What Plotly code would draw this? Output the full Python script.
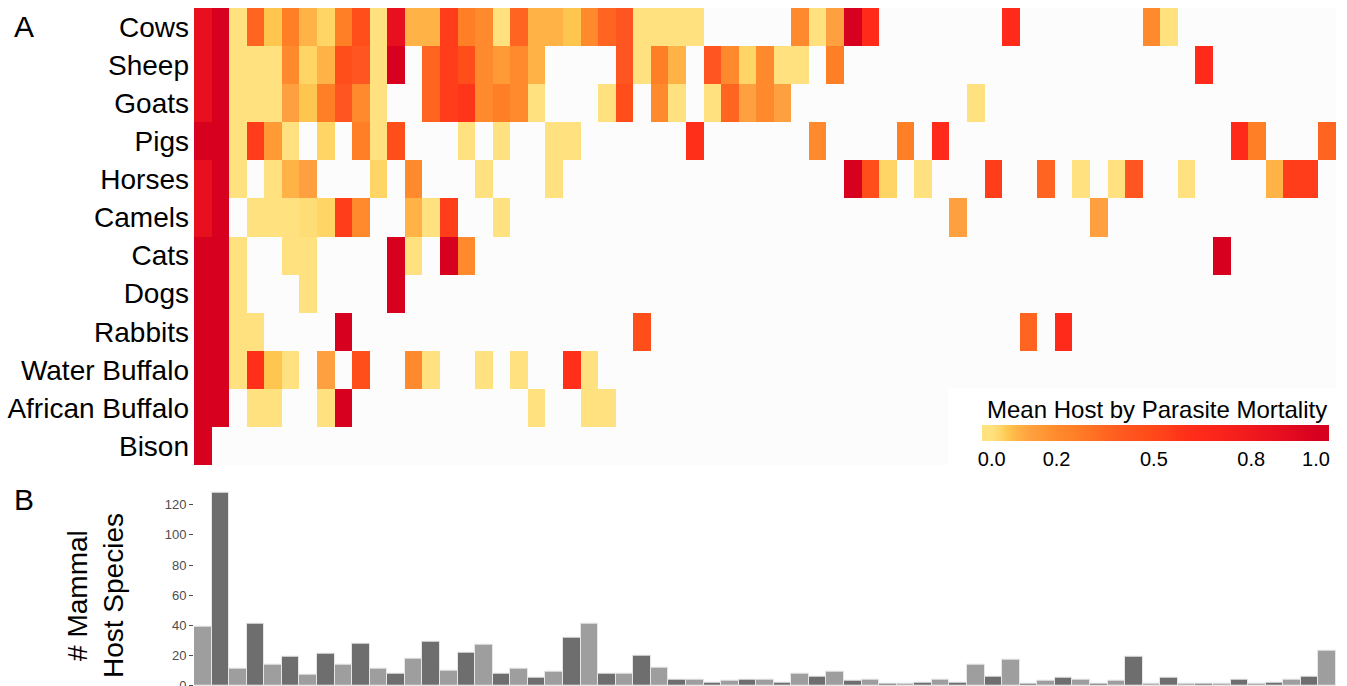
import plotly.graph_objects as go
from plotly.subplots import make_subplots

N = None
hosts = ["Cows", "Sheep", "Goats", "Pigs", "Horses", "Camels", "Cats", "Dogs",
         "Rabbits", "Water Buffalo", "African Buffalo", "Bison"]

cows = [0.88, 1.0, 0.0, 0.36, 0.05, 0.26, 0.08, 0.03, 0.26, 0.47,
        0.0, 0.88, 0.08, 0.08, 0.55, 0.26, 0.2, 0.0, 0.36, 0.08,
        0.08, 0.05, 0.2, 0.36, 0.42, 0.0, 0.0, 0.0, 0.0, N,
        N, N, N, N, 0.2, 0.0, 0.12, 1.0, 0.65, N,
        N, N, N, N, N, N, 0.65, N, N, N,
        N, N, N, N, 0.2, 0.0, N, N, N, N,
        N, N, N, N, N]
sheep = [0.88, 1.0, 0.0, 0.0, 0.0, 0.2, 0.03, 0.08, 0.47, 0.42,
         0.0, 1.0, N, 0.36, 0.55, 0.47, 0.2, 0.15, 0.2, 0.08,
         N, N, N, N, 0.42, 0.0, 0.26, 0.08, N, 0.42,
         0.2, 0.03, 0.2, 0.0, 0.0, N, 0.26, N, N, N,
         N, N, N, N, N, N, N, N, N, N,
         N, N, N, N, N, N, N, 0.65, N, N,
         N, N, N, N, N]
goats = [0.88, 1.0, 0.0, 0.0, 0.0, 0.12, 0.05, 0.26, 0.42, 0.2,
         0.0, N, N, 0.36, 0.55, 0.58, 0.2, 0.26, 0.2, 0.0,
         N, N, N, 0.0, 0.47, N, 0.2, 0.0, N, 0.0,
         0.36, 0.12, 0.2, 0.12, N, N, N, N, N, N,
         N, N, N, N, 0.0, N, N, N, N, N,
         N, N, N, N, N, N, N, N, N, N,
         N, N, N, N, N]
pigs = [1.0, 1.0, 0.0, 0.55, 0.15, 0.0, N, 0.03, N, 0.26,
        0.0, 0.47, N, N, N, 0.0, N, 0.0, N, N,
        0.0, 0.0, N, N, N, N, N, N, 0.6, N,
        N, N, N, N, N, 0.2, N, N, N, N,
        0.26, N, 0.65, N, N, N, N, N, N, N,
        N, N, N, N, N, N, N, N, N, 0.65,
        0.26, N, N, N, 0.36]
horses = [0.88, 1.0, 0.0, N, 0.0, 0.08, 0.12, N, N, N,
          0.03, N, 0.2, N, N, N, 0.0, N, N, N,
          0.0, N, N, N, N, N, N, N, N, N,
          N, N, N, N, N, N, N, 1.0, 0.47, 0.03,
          N, 0.0, N, N, N, 0.55, N, N, 0.36, N,
          0.0, N, 0.0, 0.42, N, N, 0.0, N, N, N,
          N, 0.08, 0.55, 0.55, N]
camels = [0.88, 1.0, N, 0.0, 0.0, 0.0, 0.01, 0.03, 0.55, 0.2,
          N, N, 0.08, 0.0, 0.55, N, N, 0.0, N, N,
          N, N, N, N, N, N, N, N, N, N,
          N, N, N, N, N, N, N, N, N, N,
          N, N, N, 0.12, N, N, N, N, N, N,
          N, 0.12, N, N, N, N, N, N, N, N,
          N, N, N, N, N]
cats = [1.0, 1.0, 0.0, N, N, 0.0, 0.0, N, N, N,
        N, 1.0, 0.0, N, 1.0, 0.2, N, N, N, N,
        N, N, N, N, N, N, N, N, N, N,
        N, N, N, N, N, N, N, N, N, N,
        N, N, N, N, N, N, N, N, N, N,
        N, N, N, N, N, N, N, N, 1.0, N,
        N, N, N, N, N]
dogs = [1.0, 1.0, 0.0, N, N, N, 0.0, N, N, N,
        N, 1.0] + [N] * 53
rabbits = [1.0, 1.0, 0.0, 0.0, N, N, N, N, 1.0, N] + [N] * 15 + [0.47] + [N] * 21 + [0.36, N, 0.65] + [N] * 15
water_buffalo = [1.0, 1.0, 0.0, 0.6, 0.05, 0.0, N, 0.12, N, 0.47,
                 N, N, 0.2, 0.0, N, N, 0.0, N, 0.0, N,
                 N, 0.6, 0.0] + [N] * 42
african_buffalo = [1.0, 1.0, N, 0.0, 0.0, N, N, 0.0, 1.0, N,
                   N, N, N, N, N, N, N, N, N, 0.0,
                   N, N, 0.0, 0.0] + [N] * 41
bison = [1.0] + [N] * 64

species_counts = [39, 128, 11, 41, 14, 19, 7, 21, 14, 28,
                  11, 8, 18, 29, 10, 22, 27, 8, 11, 5,
                  9, 32, 41, 8, 8, 20, 12, 4, 4, 2,
                  3, 4, 4, 2, 8, 6, 9, 3, 4, 1,
                  1, 2, 4, 2, 14, 6, 17, 1, 3, 5,
                  4, 1, 3, 19, 1, 5, 1, 1, 1, 4,
                  1, 2, 4, 6, 23]

bar_ticks = [0, 20, 40, 60, 80, 100, 120]
cbar_ticks = [0.0, 0.2, 0.5, 0.8, 1.0]
cbar_labels = ["0.0", "0.2", "0.5", "0.8", "1.0"]

z = [cows, sheep, goats, pigs, horses, camels, cats, dogs, rabbits,
     water_buffalo, african_buffalo, bison]
ncol = len(species_counts)
xs = list(range(ncol))

# colour scale (value -> colour), normalised to zmin/zmax
ZMIN, ZMAX = -0.03, 1.04
cs_vals = [0.0, 0.03, 0.05, 0.08, 0.12, 0.15, 0.2, 0.26, 0.36, 0.42, 0.47, 0.55, 0.6, 0.65, 0.88, 1.0]
cs_cols = ['#FFE17F', '#FFD565', '#FFC64F', '#FFB347', '#FFA040', '#FF9A35', '#FF8A2E', '#FF7F27',
           '#FF6420', '#FF5520', '#FF4E1A', '#FF3D1A', '#FF2F1A', '#FF2A1A', '#E8101F', '#D7001F']
colorscale = [[0.0, cs_cols[0]]] + [[(v - ZMIN) / (ZMAX - ZMIN), c] for v, c in zip(cs_vals, cs_cols)] + [[1.0, cs_cols[-1]]]

W, H = 1347, 686
L, R = 194, 11
pw = W - L - R
FONT = 'Liberation Sans, Arial'

def px_x(p):
    return (p - L) / pw

def px_y(p):
    return 1 - p / H

fig = make_subplots(rows=2, cols=1, shared_xaxes=False, vertical_spacing=0.0)

fig.add_trace(go.Heatmap(
    z=z, x=xs, y=hosts, zmin=ZMIN, zmax=ZMAX, colorscale=colorscale,
    hoverongaps=False,
    colorbar=dict(
        orientation='h', thickness=16, len=347, lenmode='pixels',
        x=px_x(1155.5), xanchor='center', y=px_y(425), yanchor='top',
        outlinewidth=0, ticks='', ticklen=0, tickvals=cbar_ticks, ticktext=cbar_labels,
        tickfont=dict(size=20, color='black', family=FONT),
        bgcolor='rgba(0,0,0,0)', xpad=0, ypad=0,
    ),
), row=1, col=1)

bar_colors = ['#9E9E9E' if i % 2 == 0 else '#6E6E6E' for i in xs]
fig.add_trace(go.Bar(
    x=xs, y=species_counts, marker=dict(color=bar_colors, line=dict(color='#E6E6E6', width=1)),
    showlegend=False,
), row=2, col=1)

fig.update_layout(
    width=W, height=H, margin=dict(l=L, r=R, t=0, b=0, autoexpand=False),
    paper_bgcolor='white', plot_bgcolor='white', bargap=0,
    font=dict(family=FONT, color='black'),
    xaxis=dict(range=[-0.5, ncol - 0.5], showticklabels=False, ticks='', showgrid=False, zeroline=False,
               domain=[0, 1], automargin=False),
    yaxis=dict(domain=[px_y(465), px_y(8)], autorange='reversed', ticks='', showgrid=False, zeroline=False,
               tickfont=dict(size=28, color='black'), ticklabelstandoff=4, automargin=False),
    xaxis2=dict(range=[-0.5, ncol - 0.5], showticklabels=False, ticks='', showgrid=False, zeroline=False,
                domain=[0, 1], automargin=False),
    yaxis2=dict(domain=[0, px_y(489.7)], range=[-0.2, 130], tickvals=bar_ticks, ticks='outside', ticklen=4,
                tickcolor='#4D4D4D', showgrid=False, zeroline=False, ticklabeloverflow='allow',
                tickfont=dict(size=13, color='#4D4D4D'), automargin=False),
    shapes=[
        dict(type='rect', xref='x', yref='y domain', x0=-0.5, x1=ncol - 0.5, y0=0, y1=1,
             fillcolor='#FCFCFC', line=dict(width=0), layer='below'),
        dict(type='rect', xref='paper', yref='paper', x0=px_x(948), x1=px_x(1347), y0=px_y(470), y1=px_y(388),
             fillcolor='white', line=dict(width=0), layer='below'),
    ],
    annotations=[
        dict(text='A', x=px_x(12), y=px_y(27), xref='paper', yref='paper', xanchor='left', yanchor='middle',
             showarrow=False, font=dict(size=30, color='black')),
        dict(text='B', x=px_x(12), y=px_y(500), xref='paper', yref='paper', xanchor='left', yanchor='middle',
             showarrow=False, font=dict(size=30, color='black')),
        dict(text='# Mammal<br>Host Species', x=px_x(95), y=px_y(596), xref='paper', yref='paper',
             xanchor='center', yanchor='middle', textangle=-90, showarrow=False,
             font=dict(size=28, color='black')),
        dict(text='Mean Host by Parasite Mortality', x=px_x(1157), y=px_y(409), xref='paper', yref='paper',
             xanchor='center', yanchor='middle', showarrow=False,
             font=dict(size=24, color='black')),
    ],
)

fig.write_html("out.html")
